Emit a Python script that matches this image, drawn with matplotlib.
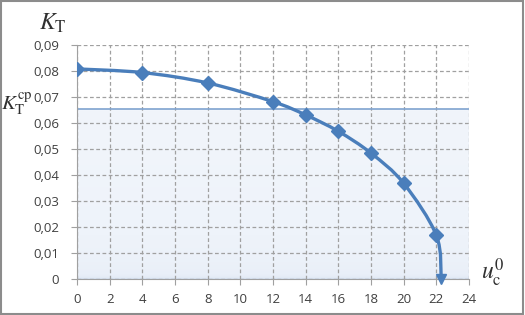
import numpy as np
import matplotlib
matplotlib.use("Agg")
import matplotlib.pyplot as plt
from matplotlib.path import Path
from matplotlib.patches import PathPatch, Rectangle
from matplotlib.colors import LinearSegmentedColormap

# data
u_c0 = [0, 4, 8, 12, 14, 16, 18, 20, 22, 22.3]
k_t = [0.0808, 0.0794, 0.0754, 0.0682, 0.0631, 0.0568, 0.0484, 0.0368, 0.0168, 0.0]
k_t_cp = 0.0653
x_ticks = list(range(0, 25, 2))
y_ticks = [0, 0.01, 0.02, 0.03, 0.04, 0.05, 0.06, 0.07, 0.08, 0.09]
y_tick_labels = ["0", "0,01", "0,02", "0,03", "0,04", "0,05", "0,06", "0,07", "0,08", "0,09"]

plt.rcParams["font.family"] = ["Open Sans", "DejaVu Sans"]
plt.rcParams["mathtext.fontset"] = "stix"

line_color = "#4a7ebb"
fig = plt.figure(figsize=(5.25, 3.15), dpi=100)
ax = fig.add_axes([77 / 525, 1 - 279 / 315, (469 - 77) / 525, (279 - 45) / 315])

ax.set_xlim(0, 24)
ax.set_ylim(0, 0.09)

# light blue gradient under the mean level
cmap = LinearSegmentedColormap.from_list("bg", ["#d6e2f1", "#e9eff8", "#eef3fa", "#f1f5fb"])
grad = np.linspace(0, 1, 200).reshape(-1, 1) ** 0.3
ax.imshow(grad, cmap=cmap, origin="lower", aspect="auto",
          extent=[0, 24, 0, k_t_cp], zorder=0)
ax.axhline(k_t_cp, color="#7fa3cf", lw=1.2, zorder=2)

# smooth curve through the points (Bezier segments, like a spreadsheet smoothed line)
pts = np.column_stack([u_c0, k_t])
verts = [pts[0]]
codes = [Path.MOVETO]
n = len(pts)
for i in range(n - 1):
    p0 = pts[max(i - 1, 0)]
    p1 = pts[i]
    p2 = pts[i + 1]
    p3 = pts[min(i + 2, n - 1)]
    c1 = p1 + (p2 - p0) / 6
    c2 = p2 - (p3 - p1) / 6
    verts += [c1, c2, p2]
    codes += [Path.CURVE4] * 3
ax.add_patch(PathPatch(Path(verts, codes), fill=False, edgecolor=line_color,
                       lw=2.4, zorder=3, capstyle="round"))
ax.plot(u_c0[:-1], k_t[:-1], ls="none", marker="D", ms=7, color=line_color, zorder=4)
ax.plot(u_c0[-1:], k_t[-1:], ls="none", marker="v", ms=7, color=line_color,
        zorder=4, clip_on=False)

ax.set_xticks(x_ticks)
ax.set_yticks(y_ticks)
ax.set_yticklabels(y_tick_labels)
ax.tick_params(colors="#404040", labelsize=9.5, length=4, color="#a0a0a0")
ax.tick_params(axis="y", pad=9)
ax.tick_params(axis="x", pad=6)
ax.grid(True, ls=(0, (3, 2)), color="#a0a0a0", lw=0.9)
ax.set_axisbelow(True)
for s in ["top", "right"]:
    ax.spines[s].set_visible(False)
for s in ["left", "bottom"]:
    ax.spines[s].set_color("#a0a0a0")

fig.text(53 / 525, 1 - 24 / 315, r"$K_{\mathrm{T}}$", fontsize=17, color="#303030",
         ha="center", va="center")
fig.text(17 / 525, 1 - 104 / 315, r"$K_{\mathrm{T}}^{\mathrm{cp}}$", fontsize=15,
         color="#303030", ha="center", va="center")
fig.text(493 / 525, 1 - 273 / 315, r"$u_{\mathrm{c}}^{0}$", fontsize=17, color="#303030",
         ha="center", va="center")

fig.patches.append(Rectangle((0.002, 0.003), 0.994, 0.993, transform=fig.transFigure,
                             fill=False, edgecolor="#8c8c8c", lw=1.5))
fig.savefig("out.png", dpi=100)
